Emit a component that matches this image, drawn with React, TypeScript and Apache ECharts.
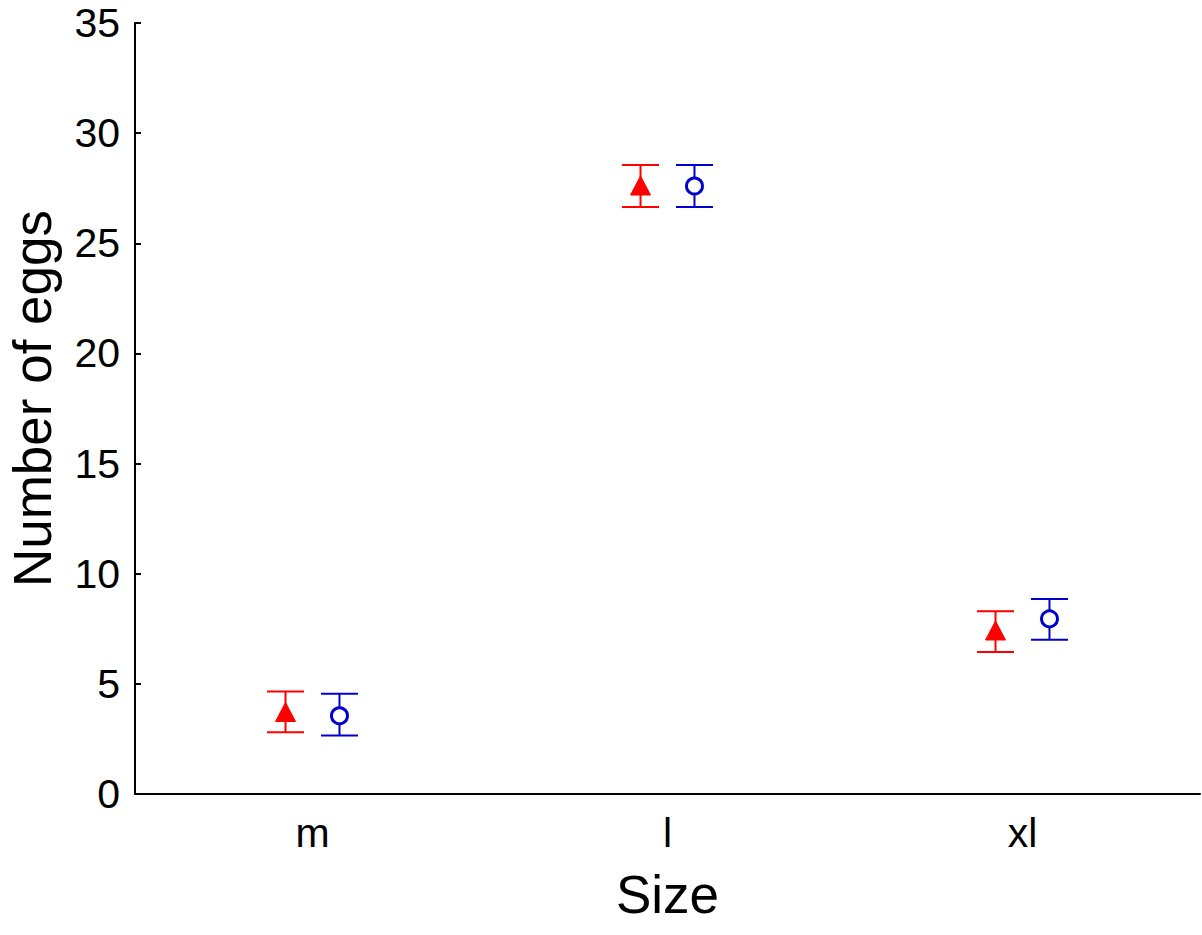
import React, { useEffect, useRef } from "react";
import * as echarts from "echarts";

const categories = ["m", "l", "xl"];
const yTicks = { min: 0, max: 35, interval: 5 };

// Group A (red filled triangles)
const redMean = [3.7, 27.6, 7.4];
const redLow = [2.8, 26.65, 6.45];
const redHigh = [4.65, 28.55, 8.3];

// Group B (blue open circles)
const blueMean = [3.55, 27.6, 7.95];
const blueLow = [2.65, 26.65, 7.0];
const blueHigh = [4.55, 28.55, 8.85];

const FONT = "'Liberation Sans', Arial, Helvetica, sans-serif";

function makeRender(offsetFrac: number, kind: "triangle" | "circle", color: string) {
  return (params: any, api: any) => {
    const i = api.value(0);
    const c = api.coord([i, api.value(1)]);
    const lo = api.coord([i, api.value(2)]);
    const hi = api.coord([i, api.value(3)]);
    const band = api.size([1, 0])[0];
    const x = c[0] + band * offsetFrac;
    const y = c[1];
    const half = 18.5;
    const lineStyle = { stroke: color, lineWidth: 2 };
    const children: any[] = [
      { type: "line", shape: { x1: x, y1: hi[1], x2: x, y2: lo[1] }, style: lineStyle },
      { type: "line", shape: { x1: x - half, y1: hi[1], x2: x + half, y2: hi[1] }, style: lineStyle },
      { type: "line", shape: { x1: x - half, y1: lo[1], x2: x + half, y2: lo[1] }, style: lineStyle },
    ];
    if (kind === "triangle") {
      children.push({
        type: "polygon",
        shape: { points: [[x, y - 10], [x - 10, y + 9], [x + 10, y + 9]] },
        style: { fill: color, stroke: color, lineWidth: 1 },
      });
    } else {
      children.push({
        type: "circle",
        shape: { cx: x, cy: y, r: 8 },
        style: { fill: "#ffffff", stroke: color, lineWidth: 3 },
      });
    }
    return { type: "group", children };
  };
}

export default function App() {
  const ref = useRef<HTMLDivElement>(null);
  useEffect(() => {
    document.body.style.margin = "0";
    const chart = echarts.init(ref.current!, null, { renderer: "svg" });
    const redData = categories.map((_, i) => [i, redMean[i], redLow[i], redHigh[i]]);
    const blueData = categories.map((_, i) => [i, blueMean[i], blueLow[i], blueHigh[i]]);
    chart.setOption({
      animation: false,
      backgroundColor: "#ffffff",
      grid: { left: 135, right: 2, top: 23, bottom: 141, containLabel: false, outerBoundsMode: "none" },
      xAxis: {
        type: "category",
        data: categories,
        boundaryGap: true,
        name: "Size",
        nameLocation: "middle",
        nameGap: 74,
        nameTextStyle: { fontSize: 53, color: "#000", fontFamily: FONT },
        axisLine: { lineStyle: { color: "#000", width: 2 } },
        axisTick: { alignWithLabel: true, inside: true, length: 6, lineStyle: { color: "#000", width: 2 } },
        axisLabel: { fontSize: 41, color: "#000", fontFamily: FONT, margin: 18 },
        splitLine: { show: false },
      },
      yAxis: {
        type: "value",
        min: yTicks.min,
        max: yTicks.max,
        interval: yTicks.interval,
        name: "Number of eggs",
        nameLocation: "middle",
        nameGap: 81,
        nameRotate: 90,
        nameTextStyle: { fontSize: 53, lineHeight: 44, color: "#000", fontFamily: FONT, padding: [0, 0, 0, 20] },
        axisLine: { show: true, lineStyle: { color: "#000", width: 2 } },
        axisTick: { show: true, inside: true, length: 6, lineStyle: { color: "#000", width: 2 } },
        axisLabel: { fontSize: 41, color: "#000", fontFamily: FONT, margin: 15 },
        splitLine: { show: false },
      },
      series: [
        {
          type: "custom",
          name: "A",
          renderItem: makeRender(-0.076, "triangle", "#ff0000"),
          encode: { x: 0, y: [1, 2, 3] },
          data: redData,
          z: 3,
        },
        {
          type: "custom",
          name: "B",
          renderItem: makeRender(0.076, "circle", "#0000cc"),
          encode: { x: 0, y: [1, 2, 3] },
          data: blueData,
          z: 3,
        },
      ],
    });
    return () => chart.dispose();
  }, []);
  return <div ref={ref} style={{ width: 1202, height: 935 }} />;
}
